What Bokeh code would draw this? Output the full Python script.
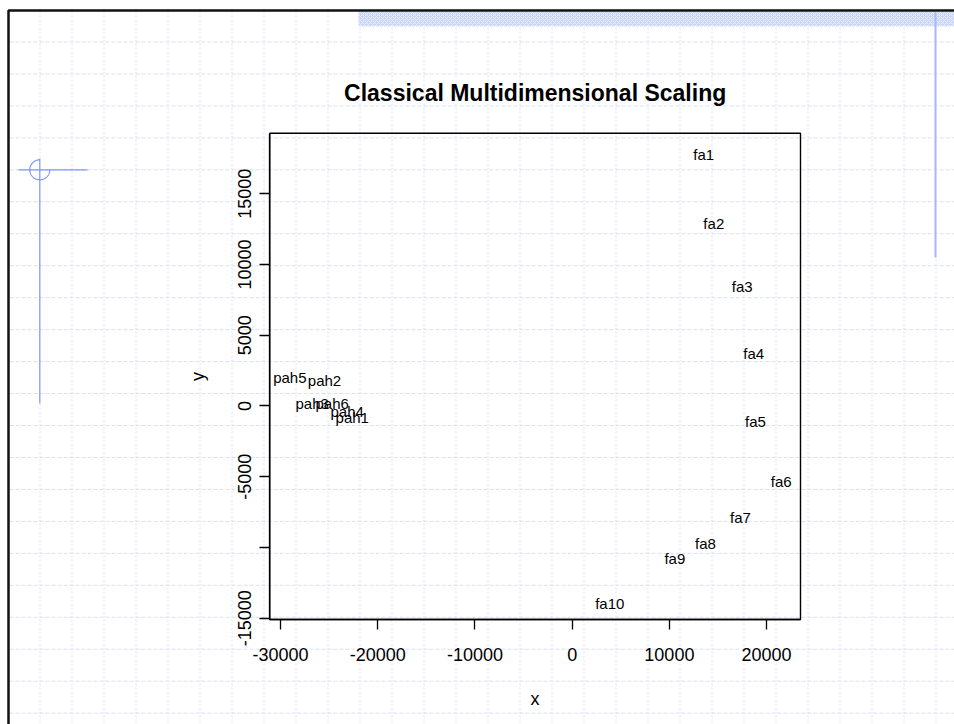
import math

from bokeh.core.properties import value
from bokeh.embed import file_html
from bokeh.models import FixedTicker, LinearAxis, Range1d
from bokeh.plotting import figure
from bokeh.resources import INLINE

# Classical MDS coordinates of the samples
names = ["fa1", "fa2", "fa3", "fa4", "fa5", "fa6", "fa7", "fa8", "fa9", "fa10",
         "pah1", "pah2", "pah3", "pah4", "pah5", "pah6"]
mds_x = [13540, 14570, 17490, 18680, 18860, 21500, 17310, 13710, 10560, 3870,
         -22630, -25480, -26750, -23150, -29050, -24690]
mds_y = [17770, 12880, 8450, 3730, -1070, -5310, -7860, -9740, -10800, -13980,
         -830, 1800, 200, -390, 1990, 160]

X_TICKS = [-30000, -20000, -10000, 0, 10000, 20000]
X_TICK_LABELS = ["-30000", "-20000", "-10000", "0", "10000", "20000"]
Y_TICKS = [-15000, -10000, -5000, 0, 5000, 10000, 15000]
Y_TICK_LABELS = ["-15000", "", "-5000", "0", "5000", "10000", "15000"]

TITLE = "Classical Multidimensional Scaling"
X_LABEL = "x"
Y_LABEL = "y"

# data limits of the plotting box
X_LIM = (-31110, 23490)
Y_LIM = (-15090, 19280)

# page geometry (pixels)
W, H = 954, 724
BOX_L, BOX_R, BOX_T, BOX_B = 269.3, 800.0, 132.7, 619.0

FONT = "Liberation Sans"

# data ranges spanning the whole canvas so the box lands where it should
sx = (BOX_R - BOX_L) / (X_LIM[1] - X_LIM[0])
sy = (BOX_B - BOX_T) / (Y_LIM[1] - Y_LIM[0])
x_start = X_LIM[0] - BOX_L / sx
x_end = X_LIM[1] + (W - BOX_R) / sx
y_end = Y_LIM[1] + BOX_T / sy
y_start = Y_LIM[0] - (H - BOX_B) / sy

p = figure(width=W, height=H,
           x_range=Range1d(x_start, x_end), y_range=Range1d(y_start, y_end),
           x_axis_location=None, y_axis_location=None,
           toolbar_location=None, output_backend="svg",
           min_border=0, outline_line_color=None,
           background_fill_color="white", border_fill_color="white")
p.grid.visible = False

# pixel ranges for the page decoration
p.extra_x_ranges = {"px": Range1d(0, W)}
p.extra_y_ranges = {"py": Range1d(H, 0)}
PX = dict(x_range_name="px", y_range_name="py")

# dashed background grid of the page
vx = [39.5 + 32.0 * k for k in range(29)]
p.segment(x0=vx, y0=[11] * len(vx), x1=vx, y1=[H] * len(vx),
          line_color="#dde1f8", line_width=1, line_dash="2 2", **PX)
hy = [41.5 + 31.96 * k for k in range(22)]
p.segment(x0=[9] * len(hy), y0=hy, x1=[W] * len(hy), y1=hy,
          line_color="#dadff7", line_width=1, line_dash="4 2", **PX)

# patterned band along the top edge
p.quad(left=[358], right=[W], top=[11.5], bottom=[25.7],
       fill_color="#cbd6f6", line_color=None,
       hatch_pattern="diagonal_cross", hatch_color="#e6ecfc",
       hatch_scale=4, hatch_weight=1, **PX)

# page border
p.line(x=[8, 8, W], y=[H, 10, 10], line_color="#111111", line_width=2.5, **PX)

# blue ornaments
p.line(x=[935, 935], y=[12, 257], line_color="#a9b9f5", line_width=2, **PX)
p.line(x=[39.3, 39.3], y=[158, 403], line_color="#7f98f0", line_width=1.2, **PX)
p.line(x=[18, 87], y=[169.3, 169.3], line_color="#7f98f0", line_width=1.2, **PX)
ang = [math.radians(90 + 2.5 * i) for i in range(109)]
p.line(x=[39.3 + 10 * math.cos(a) for a in ang],
       y=[169.3 - 10 * math.sin(a) for a in ang],
       line_color="#7f98f0", line_width=1.2, **PX)

# plotting box
p.quad(left=[X_LIM[0]], right=[X_LIM[1]], bottom=[Y_LIM[0]], top=[Y_LIM[1]],
       fill_color=None, line_color="black", line_width=1.4)

# sample labels at their MDS positions
p.text(x=mds_x, y=mds_y, text=names, text_align="center", text_baseline="middle",
       text_font=value(FONT), text_font_size="15px", text_color="black")

# title
p.text(x=[(BOX_L + BOX_R) / 2], y=[92], text=[TITLE], text_align="center",
       text_baseline="alphabetic", text_font=value(FONT), text_font_size="23px",
       text_font_style="bold", text_color="black", **PX)


def style_axis(ax):
    ax.axis_line_color = "black"
    ax.axis_line_width = 1.3
    ax.major_tick_line_color = "black"
    ax.major_tick_line_width = 1.3
    ax.major_tick_in = 0
    ax.major_tick_out = 10
    ax.minor_tick_line_color = None
    ax.major_label_text_font = FONT
    ax.major_label_text_font_size = "18px"
    ax.major_label_text_color = "black"
    ax.axis_label_text_font = FONT
    ax.axis_label_text_font_size = "18px"
    ax.axis_label_text_font_style = "normal"
    ax.axis_label_text_color = "black"


# axes run along the whole box edge so their titles centre on the box
xaxis = LinearAxis(fixed_location=Y_LIM[0], ticker=FixedTicker(ticks=X_TICKS),
                   bounds=X_LIM, axis_label=X_LABEL,
                   major_label_overrides=dict(zip(X_TICKS, X_TICK_LABELS)))
style_axis(xaxis)
xaxis.major_label_standoff = 18
xaxis.axis_label_standoff = 25
p.add_layout(xaxis, "below")

yaxis = LinearAxis(fixed_location=X_LIM[0], ticker=FixedTicker(ticks=Y_TICKS),
                   bounds=Y_LIM, axis_label=Y_LABEL,
                   major_label_overrides=dict(zip(Y_TICKS, Y_TICK_LABELS)),
                   major_label_orientation="vertical")
style_axis(yaxis)
yaxis.major_label_standoff = 9
yaxis.axis_label_standoff = 27
p.add_layout(yaxis, "left")

open("out.html", "w").write(file_html(p, INLINE))
